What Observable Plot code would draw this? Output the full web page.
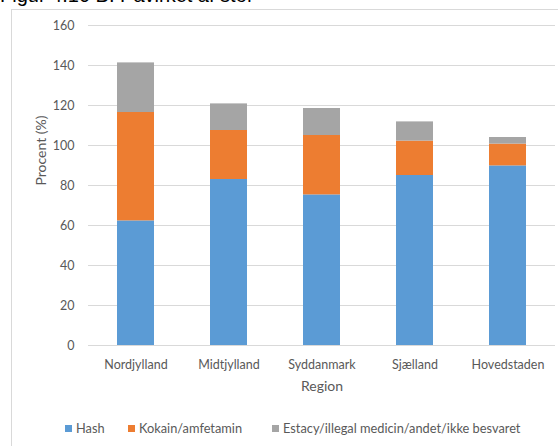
<!DOCTYPE html>
<html>
<head>
<meta charset="utf-8">
<script src="https://cdn.jsdelivr.net/npm/d3@7"></script>
<script src="https://cdn.jsdelivr.net/npm/@observablehq/plot@0.6"></script>
<style>
  html, body { margin: 0; padding: 0; background: #fff; overflow: hidden; width: 558px; height: 446px; }
  #page { position: relative; width: 558px; height: 446px; overflow: hidden; }
  #title { position: absolute; left: 0px; top: -15px; font-family: "Liberation Sans", Arial, sans-serif; font-size: 20px; line-height: 20px; color: #000; white-space: nowrap; }
  #frame { position: absolute; left: 11px; top: 9px; width: 620px; height: 460px; border: 1px solid #d9d9d9; box-sizing: border-box; }
  #chart { position: absolute; left: 0; top: 0; }
  #legend { position: absolute; left: 0; top: 420px; width: 558px; height: 16px; font-family: Lato, "Open Sans", sans-serif; font-size: 12.8px; color: #595959; }
  .item { position: absolute; top: 0; line-height: 16px; white-space: nowrap; }
  .sw { position: absolute; top: 5px; width: 7px; height: 7px; }
</style>
</head>
<body>
<div id="page">
  <div id="title">Figur 4.10 B: Påvirket af stof</div>
  <div id="frame"></div>
  <div id="chart"></div>
  <div id="legend"></div>
</div>
<script>
const regions = ["Nordjylland", "Midtjylland", "Syddanmark", "Sjælland", "Hovedstaden"];
const seriesNames = ["Hash", "Kokain/amfetamin", "Estacy/illegal medicin/andet/ikke besvaret"];
const hash = [62.3, 83.0, 75.3, 85.0, 89.8];
const kokain = [54.2, 24.5, 29.7, 17.2, 10.9];
const estacy = [24.8, 13.3, 13.5, 9.6, 3.3];
const colors = ["#5B9BD5", "#ED7D31", "#A5A5A5"];
const yTicks = [0, 20, 40, 60, 80, 100, 120, 140, 160];

const seriesValues = [hash, kokain, estacy];
const data = [];
seriesNames.forEach((s, si) => {
  regions.forEach((r, ri) => data.push({region: r, series: s, value: seriesValues[si][ri]}));
});

const chart = Plot.plot({
  width: 558,
  height: 400,
  marginTop: 25,
  marginBottom: 55,
  marginLeft: 88,
  marginRight: 3,
  style: { fontFamily: "Lato, 'Open Sans', sans-serif", fontSize: "12.5px", color: "#595959", background: "transparent" },
  x: { domain: regions, paddingInner: 0.6, paddingOuter: 0.3, label: null },
  y: { domain: [0, 160], label: null },
  color: { domain: seriesNames, range: colors },
  marks: [
    Plot.gridY(yTicks, { stroke: "#d9d9d9", strokeOpacity: 1, strokeWidth: 1 }),
    Plot.barY(data, { x: "region", y: "value", fill: "series", z: "series", order: seriesNames }),
    Plot.axisY({ ticks: yTicks, tickSize: 0, tickPadding: 14, label: null }),
    Plot.axisX({ tickSize: 0, tickPadding: 15, label: null }),
    Plot.text(["Region"], { frameAnchor: "bottom", dy: 45, fontSize: 14, fill: "#595959" }),
    Plot.text(["Procent (%)"], { frameAnchor: "left", dx: -47, rotate: -90, fontSize: 14, fill: "#595959" })
  ]
});
document.getElementById("chart").appendChild(chart);

// legend
const legend = document.getElementById("legend");
const swatchX = [65, 128, 272];
seriesNames.forEach((s, i) => {
  const it = document.createElement("div");
  it.className = "item";
  it.style.left = swatchX[i] + "px";
  const sw = document.createElement("span");
  sw.className = "sw";
  sw.style.left = "0px";
  sw.style.background = colors[i];
  const tx = document.createElement("span");
  tx.style.marginLeft = "11px";
  tx.textContent = s;
  it.appendChild(sw);
  it.appendChild(tx);
  legend.appendChild(it);
});
</script>
</body>
</html>
